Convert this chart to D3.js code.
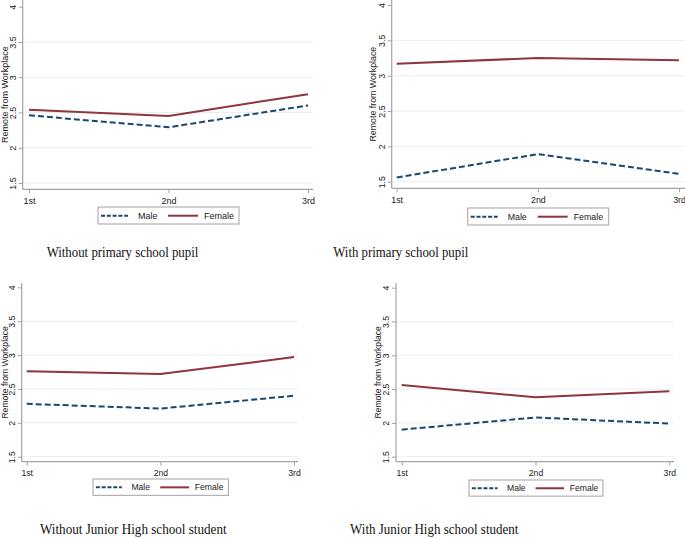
<!DOCTYPE html>
<html>
<head>
<meta charset="utf-8">
<script src="https://cdn.jsdelivr.net/npm/d3@7"></script>
<style>
  html, body { margin: 0; padding: 0; background: #fff; }
  svg { display: block; }
</style>
</head>
<body>
<svg id="chart" width="685" height="538"></svg>
<script>
// ---------- data ----------
const categories = ["1st", "2nd", "3rd"];
const yTicks = [1.5, 2, 2.5, 3, 3.5, 4];
const yTickLabels = ["1.5", "2", "2.5", "3", "3.5", "4"];
const seriesNames = ["Male", "Female"];
const yAxisTitle = "Remote from Workplace";
const panelTitles = [
  "Without primary school pupil",
  "With primary school pupil",
  "Without Junior High school student",
  "With Junior High school student"
];
const maleValues = [
  [2.46, 2.29, 2.60],
  [1.56, 1.89, 1.61],
  [2.28, 2.21, 2.40],
  [1.90, 2.08, 1.99]
];
const femaleValues = [
  [2.54, 2.45, 2.76],
  [3.17, 3.25, 3.22],
  [2.76, 2.72, 2.97],
  [2.56, 2.38, 2.47]
];

// ---------- layout (positions only) ----------
const layout = [
  { axisX: 22.7, y4: 6.7,   y15: 183,   x1: 29,    x3: 308,   xAxisY: 189.3, right: 313, top: 0,   legX: 98,    legY: 207, legS: 1.0,  fs: 9,   titleOff: 14.8, capX: 122.5, capY: 257,   capW: 151.7 },
  { axisX: 391.7, y4: 5,    y15: 181.7, x1: 396.7, x3: 679,   xAxisY: 188.3, right: 685, top: 0,   legX: 467.7, legY: 208, legS: 1.0,  fs: 8.8, titleOff: 16,   capX: 400.8, capY: 257,   capW: 135 },
  { axisX: 21.7, y4: 287.3, y15: 456.7, x1: 26.7,  x3: 294,   xAxisY: 461.7, right: 298, top: 283, legX: 93,    legY: 479, legS: 0.96, fs: 8.6, titleOff: 13.8, capX: 133.3, capY: 534.3, capW: 186.7 },
  { axisX: 396,  y4: 287.7, y15: 456.7, x1: 401.7, x3: 669.3, xAxisY: 461.7, right: 674, top: 283, legX: 469,   legY: 480, legS: 0.95, fs: 8.6, titleOff: 15,   capX: 434.2, capY: 534.3, capW: 168.3 }
];

const maleColor = "#1a476f";
const femaleColor = "#90353b";
const axisColor = "#a3a3a3";
const gridColor = "#e9eff1";
const textColor = "#1a1a1a";

const svg = d3.select("#chart");

layout.forEach((L, i) => {
  const g = svg.append("g");
  const y = d3.scaleLinear().domain([1.5, 4]).range([L.y15, L.y4]);
  const x = d3.scalePoint().domain(categories).range([L.x1, L.x3]);

  // grid lines (not at the top tick)
  g.append("g").selectAll("line")
    .data(yTicks.filter(t => t < 4))
    .join("line")
    .attr("x1", L.axisX).attr("x2", L.right)
    .attr("y1", d => y(d)).attr("y2", d => y(d))
    .attr("stroke", gridColor).attr("stroke-width", 1);

  // y axis
  const yAxis = d3.axisLeft(y).tickValues(yTicks)
    .tickFormat((d, k) => yTickLabels[k]).tickSize(4).tickPadding(3);
  const yg = g.append("g").attr("transform", `translate(${L.axisX},0)`).call(yAxis);
  yg.select(".domain").remove();
  yg.append("line").attr("x1", 0).attr("x2", 0).attr("y1", L.top).attr("y2", L.xAxisY)
    .attr("stroke", axisColor).attr("stroke-width", 1.2);
  yg.selectAll(".tick line").attr("stroke", axisColor);
  yg.selectAll(".tick text")
    .attr("x", 0).attr("dy", null)
    .attr("transform", "translate(-7,0) rotate(-90)")
    .attr("text-anchor", "middle")
    .attr("fill", textColor)
    .style("font-family", "'Liberation Sans', Arial, sans-serif")
    .style("font-size", L.fs + "px");

  // x axis
  const xAxis = d3.axisBottom(x).tickSize(4).tickPadding(4);
  const xg = g.append("g").attr("transform", `translate(0,${L.xAxisY})`).call(xAxis);
  xg.select(".domain").remove();
  xg.append("line").attr("x1", L.axisX).attr("x2", L.right).attr("y1", 0).attr("y2", 0)
    .attr("stroke", axisColor).attr("stroke-width", 1.2);
  xg.selectAll(".tick line").attr("stroke", axisColor);
  xg.selectAll(".tick text")
    .attr("fill", textColor)
    .style("font-family", "'Liberation Sans', Arial, sans-serif")
    .style("font-size", L.fs + "px");

  // y axis title
  const midY = (L.top + L.xAxisY) / 2;
  g.append("text")
    .attr("transform", `translate(${L.axisX - L.titleOff},${midY}) rotate(-90)`)
    .attr("text-anchor", "middle")
    .attr("fill", textColor)
    .style("font-family", "'Liberation Sans', Arial, sans-serif")
    .style("font-size", L.fs + "px")
    .text(yAxisTitle);

  // lines
  const line = d3.line().x((d, k) => x(categories[k])).y(d => y(d));
  g.append("path").datum(femaleValues[i]).attr("d", line)
    .attr("fill", "none").attr("stroke", femaleColor).attr("stroke-width", 2);
  g.append("path").datum(maleValues[i]).attr("d", line)
    .attr("fill", "none").attr("stroke", maleColor).attr("stroke-width", 2)
    .attr("stroke-dasharray", "6,3");

  // legend
  const s = L.legS;
  const lg = g.append("g").attr("transform", `translate(${L.legX},${L.legY})`);
  lg.append("rect").attr("x", 0).attr("y", 0).attr("width", 141 * s).attr("height", 17 * s)
    .attr("fill", "#fff").attr("stroke", axisColor).attr("stroke-width", 1);
  const ly = 8.7 * s;
  lg.append("line").attr("x1", 3 * s).attr("x2", 30 * s).attr("y1", ly).attr("y2", ly)
    .attr("stroke", maleColor).attr("stroke-width", 2).attr("stroke-dasharray", "4,1.8");
  lg.append("text").attr("x", 40 * s).attr("y", ly).attr("dy", "0.35em")
    .attr("fill", textColor)
    .style("font-family", "'Liberation Sans', Arial, sans-serif")
    .style("font-size", L.fs + "px")
    .text(seriesNames[0]);
  lg.append("line").attr("x1", 70 * s).attr("x2", 100 * s).attr("y1", ly).attr("y2", ly)
    .attr("stroke", femaleColor).attr("stroke-width", 2);
  lg.append("text").attr("x", 106 * s).attr("y", ly).attr("dy", "0.35em")
    .attr("fill", textColor)
    .style("font-family", "'Liberation Sans', Arial, sans-serif")
    .style("font-size", L.fs + "px")
    .text(seriesNames[1]);

  // caption
  svg.append("text")
    .attr("x", L.capX - L.capW / 2).attr("y", L.capY)
    .attr("textLength", L.capW).attr("lengthAdjust", "spacingAndGlyphs")
    .attr("fill", "#111")
    .style("font-family", "'Liberation Serif', 'DejaVu Serif', serif")
    .style("font-size", "14px")
    .text(panelTitles[i]);
});
</script>
</body>
</html>
